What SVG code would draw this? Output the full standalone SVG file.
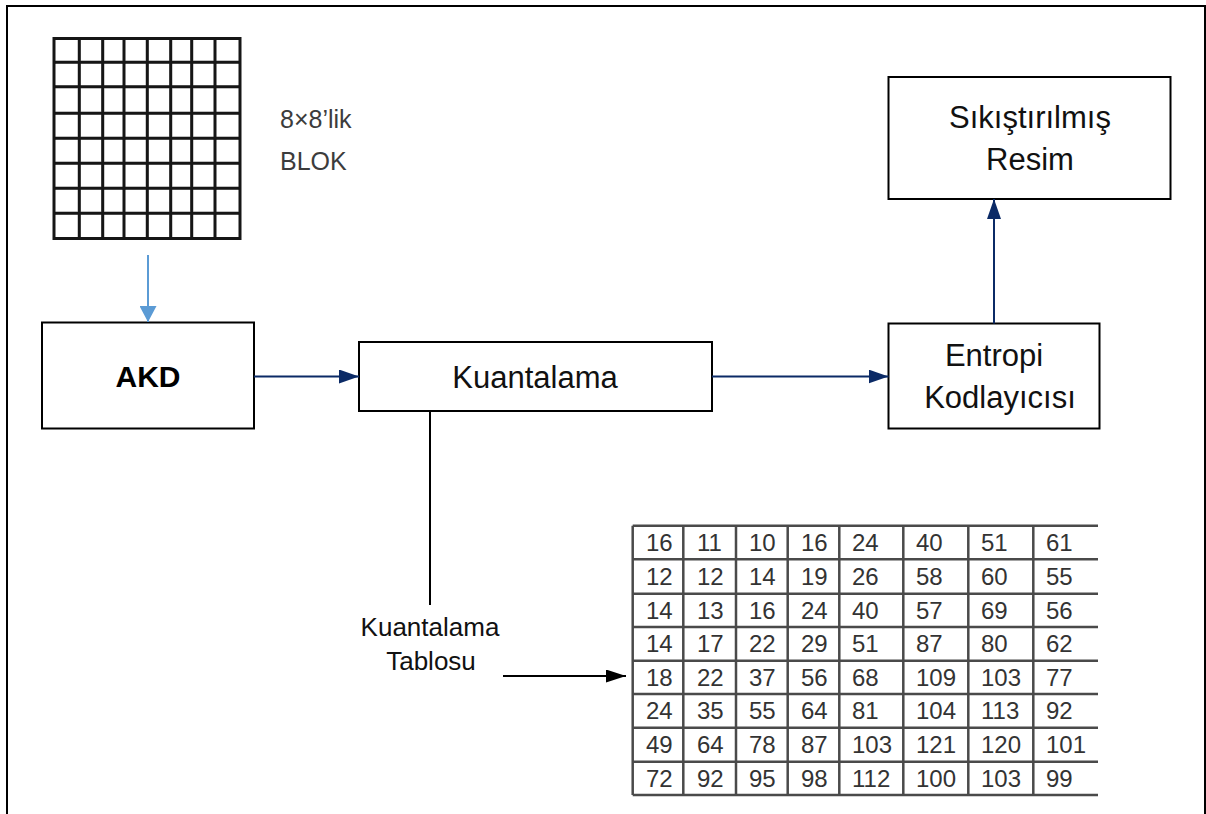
<svg xmlns="http://www.w3.org/2000/svg" width="1206" height="814" viewBox="0 0 1206 814">
  <style>
    .box { fill: #ffffff; stroke: #000000; stroke-width: 2; }
    .lbl { font-family: "Liberation Sans", Arial, sans-serif; font-size: 31px; fill: #111111; text-anchor: middle; }
    .lbl-b { font-family: "Liberation Sans", Arial, sans-serif; font-size: 30px; font-weight: bold; fill: #000000; text-anchor: middle; }
    .small { font-family: "Liberation Sans", Arial, sans-serif; font-size: 26px; fill: #111111; text-anchor: middle; }
    .note { font-family: "Liberation Sans", Arial, sans-serif; font-size: 25px; fill: #3c3c3c; }
    .navy { stroke: #0b2a66; stroke-width: 2; fill: none; }
    .sky { stroke: #5b9bd5; stroke-width: 2; fill: none; }
    .plain { stroke: #000000; stroke-width: 2; fill: none; }
    .grid { stroke: #141414; stroke-width: 3; fill: none; }
    .tbl { stroke: #4a4a4a; stroke-width: 2.5; fill: none; }
    .num { font-family: "Liberation Sans", Arial, sans-serif; font-size: 24px; fill: #333333; }
  </style>
  <defs>
    <marker id="headNavy" markerUnits="userSpaceOnUse" markerWidth="20" markerHeight="14" refX="20" refY="7" orient="auto">
      <path d="M0,0 L20,7 L0,14 Z" fill="#0b2a66"/>
    </marker>
    <marker id="headSky" markerUnits="userSpaceOnUse" markerWidth="16" markerHeight="17" refX="16" refY="8.5" orient="auto">
      <path d="M0,0 L16,8.5 L0,17 Z" fill="#5b9bd5"/>
    </marker>
    <marker id="headBlack" markerUnits="userSpaceOnUse" markerWidth="20" markerHeight="13" refX="20" refY="6.5" orient="auto">
      <path d="M0,0 L20,6.5 L0,13 Z" fill="#000000"/>
    </marker>
    <filter id="soft" x="-5%" y="-5%" width="110%" height="110%">
      <feGaussianBlur stdDeviation="0.6"/>
    </filter>
  </defs>

  <!-- page frame -->
  <path d="M7,814 V6 H1205 V814" fill="none" stroke="#000000" stroke-width="2"/>

  <!-- 8x8 block illustration -->
  <g id="block8x8" filter="url(#soft)">
    <rect class="grid" x="54" y="38.5" width="186" height="200"/>
    <path class="grid" d="M79.3,38.5 V238.5 M102.7,38.5 V238.5 M124,38.5 V238.5 M147.3,38.5 V238.5 M170.7,38.5 V238.5 M191.7,38.5 V238.5 M215,38.5 V238.5"/>
    <path class="grid" d="M54,62.3 H240 M54,86.7 H240 M54,113.3 H240 M54,138.3 H240 M54,163.3 H240 M54,188.3 H240 M54,213.3 H240"/>
  </g>
  <g id="blockLabel">
    <text class="note" x="280" y="128">8×8’lik</text>
    <text class="note" x="280" y="170">BLOK</text>
  </g>

  <!-- process boxes -->
  <g id="akd">
    <rect class="box" x="42" y="322.5" width="212" height="106"/>
    <text class="lbl-b" x="148" y="387">AKD</text>
  </g>
  <g id="kuantalama">
    <rect class="box" x="359" y="342" width="353" height="69"/>
    <text class="lbl" x="535" y="388">Kuantalama</text>
  </g>
  <g id="entropi">
    <rect class="box" x="888.5" y="323.5" width="211" height="105"/>
    <text class="lbl" x="994" y="366">Entropi</text>
    <text class="lbl" x="1000" y="408">Kodlayıcısı</text>
  </g>
  <g id="sikistirilmis">
    <rect class="box" x="888.5" y="77" width="282" height="122"/>
    <text class="lbl" x="1030" y="128">Sıkıştırılmış</text>
    <text class="lbl" x="1030" y="170">Resim</text>
  </g>

  <!-- quantisation table label -->
  <g id="tabloLabel">
    <text class="small" x="430" y="636">Kuantalama</text>
    <text class="small" x="431" y="670">Tablosu</text>
  </g>

  <!-- quantisation table -->
  <g id="tablo">
    <path class="tbl" d="M632.7,525.7 H1098 M632.7,559.3 H1098 M632.7,593.7 H1098 M632.7,627 H1098 M632.7,660.7 H1098 M632.7,694 H1098 M632.7,727.7 H1098 M632.7,761.7 H1098 M632.7,795 H1098"/>
    <path class="tbl" d="M632.7,525.7 V795 M683.3,525.7 V795 M736,525.7 V795 M787.7,525.7 V795 M839.3,525.7 V795 M903.3,525.7 V795 M968.3,525.7 V795 M1033.3,525.7 V795"/>
    <g class="num">
      <text x="646" y="551">16</text><text x="697" y="551">11</text><text x="749" y="551">10</text><text x="801" y="551">16</text><text x="852" y="551">24</text><text x="916" y="551">40</text><text x="981" y="551">51</text><text x="1046" y="551">61</text>
      <text x="646" y="585">12</text><text x="697" y="585">12</text><text x="749" y="585">14</text><text x="801" y="585">19</text><text x="852" y="585">26</text><text x="916" y="585">58</text><text x="981" y="585">60</text><text x="1046" y="585">55</text>
      <text x="646" y="619">14</text><text x="697" y="619">13</text><text x="749" y="619">16</text><text x="801" y="619">24</text><text x="852" y="619">40</text><text x="916" y="619">57</text><text x="981" y="619">69</text><text x="1046" y="619">56</text>
      <text x="646" y="652">14</text><text x="697" y="652">17</text><text x="749" y="652">22</text><text x="801" y="652">29</text><text x="852" y="652">51</text><text x="916" y="652">87</text><text x="981" y="652">80</text><text x="1046" y="652">62</text>
      <text x="646" y="686">18</text><text x="697" y="686">22</text><text x="749" y="686">37</text><text x="801" y="686">56</text><text x="852" y="686">68</text><text x="916" y="686">109</text><text x="981" y="686">103</text><text x="1046" y="686">77</text>
      <text x="646" y="719">24</text><text x="697" y="719">35</text><text x="749" y="719">55</text><text x="801" y="719">64</text><text x="852" y="719">81</text><text x="916" y="719">104</text><text x="981" y="719">113</text><text x="1046" y="719">92</text>
      <text x="646" y="753">49</text><text x="697" y="753">64</text><text x="749" y="753">78</text><text x="801" y="753">87</text><text x="852" y="753">103</text><text x="916" y="753">121</text><text x="981" y="753">120</text><text x="1046" y="753">101</text>
      <text x="646" y="787">72</text><text x="697" y="787">92</text><text x="749" y="787">95</text><text x="801" y="787">98</text><text x="852" y="787">112</text><text x="916" y="787">100</text><text x="981" y="787">103</text><text x="1046" y="787">99</text>
    </g>
  </g>

  <!-- connectors -->
  <g id="connectors">
    <line class="sky" x1="148" y1="255" x2="148" y2="322" marker-end="url(#headSky)"/>
    <line class="navy" x1="254" y1="376.5" x2="359" y2="376.5" marker-end="url(#headNavy)"/>
    <line class="navy" x1="712" y1="376.5" x2="888.5" y2="376.5" marker-end="url(#headNavy)"/>
    <line class="navy" x1="994" y1="323.5" x2="994" y2="199" marker-end="url(#headNavy)"/>
    <line class="plain" x1="430" y1="411" x2="430" y2="605"/>
    <line class="plain" x1="503" y1="676" x2="626" y2="676" marker-end="url(#headBlack)"/>
  </g>
</svg>
